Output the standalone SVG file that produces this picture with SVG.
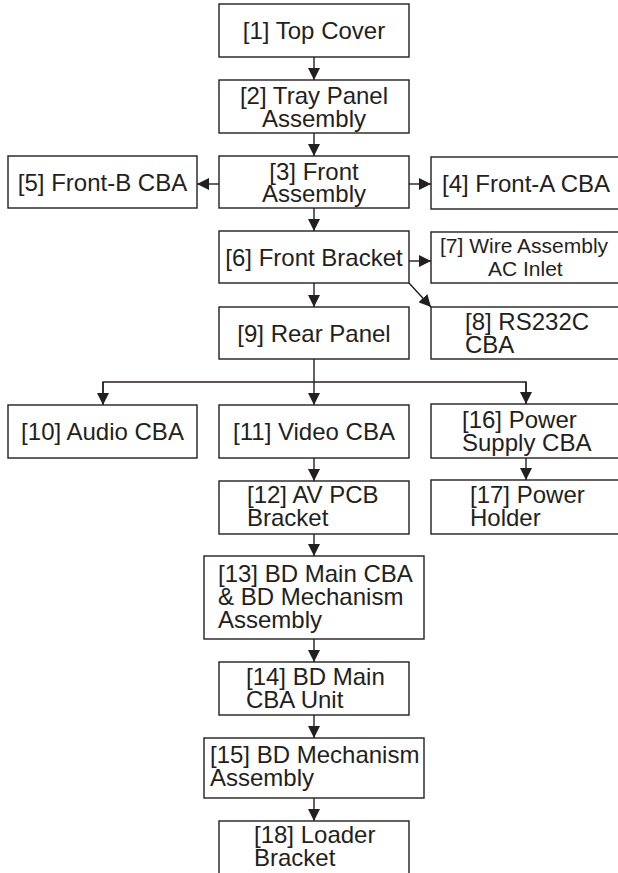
<svg xmlns="http://www.w3.org/2000/svg" width="618" height="873" viewBox="0 0 618 873">
<style>
.b{fill:#fff;stroke:#231f20;stroke-width:1.4}
.t{font-family:"Liberation Sans",Arial,sans-serif;font-size:24px;fill:#231f20}
.s{font-size:21px}
.c{text-anchor:middle}
.l{fill:none;stroke:#231f20;stroke-width:1.4}
</style>
<defs>
<marker id="a" viewBox="0 0 12 12" refX="12" refY="6" markerWidth="12" markerHeight="12" markerUnits="userSpaceOnUse" orient="auto">
<path d="M0,0 L12,6 L0,12 z" fill="#231f20"/>
</marker>
</defs>
<rect width="618" height="873" fill="#fff"/>
<g id="connectors">
<line class="l" x1="314" y1="57" x2="314" y2="80" marker-end="url(#a)"/>
<line class="l" x1="314" y1="133" x2="314" y2="156" marker-end="url(#a)"/>
<line class="l" x1="219" y1="184" x2="197" y2="184" marker-end="url(#a)"/>
<line class="l" x1="409" y1="184" x2="431" y2="184" marker-end="url(#a)"/>
<line class="l" x1="314" y1="208" x2="314" y2="231" marker-end="url(#a)"/>
<line class="l" x1="409" y1="261" x2="431" y2="261" marker-end="url(#a)"/>
<line class="l" x1="409" y1="283" x2="431" y2="307" marker-end="url(#a)"/>
<line class="l" x1="314" y1="283" x2="314" y2="307" marker-end="url(#a)"/>
<polyline class="l" points="314,359 314,382"/>
<polyline class="l" points="103,404 103,382 526,382 526,404"/>
<line class="l" x1="103" y1="382" x2="103" y2="405" marker-end="url(#a)"/>
<line class="l" x1="314" y1="382" x2="314" y2="405" marker-end="url(#a)"/>
<line class="l" x1="526" y1="382" x2="526" y2="404" marker-end="url(#a)"/>
<line class="l" x1="314" y1="458" x2="314" y2="481" marker-end="url(#a)"/>
<line class="l" x1="526" y1="458" x2="526" y2="480" marker-end="url(#a)"/>
<line class="l" x1="314" y1="534" x2="314" y2="556" marker-end="url(#a)"/>
<line class="l" x1="314" y1="639" x2="314" y2="662" marker-end="url(#a)"/>
<line class="l" x1="314" y1="715" x2="314" y2="738" marker-end="url(#a)"/>
<line class="l" x1="314" y1="798" x2="314" y2="821" marker-end="url(#a)"/>
</g>
<g id="n1"><rect class="b" x="219" y="4" width="190" height="53"/><text class="t c" x="314" y="39">[1] Top Cover</text></g>
<g id="n2"><rect class="b" x="219" y="80" width="190" height="53"/><text class="t c" x="314" y="104">[2] Tray Panel</text><text class="t c" x="314" y="127">Assembly</text></g>
<g id="n3"><rect class="b" x="219" y="156" width="190" height="52"/><text class="t c" x="314" y="180">[3] Front</text><text class="t c" x="314" y="202">Assembly</text></g>
<g id="n5"><rect class="b" x="8" y="156" width="189" height="52"/><text class="t c" x="102.5" y="191">[5] Front-B CBA</text></g>
<g id="n4"><rect class="b" x="431" y="157" width="200" height="52"/><text class="t" x="442" y="192">[4] Front-A CBA</text></g>
<g id="n6"><rect class="b" x="219" y="231" width="190" height="52"/><text class="t c" x="314" y="266">[6] Front Bracket</text></g>
<g id="n7"><rect class="b" x="431" y="232" width="200" height="51"/><text class="t s" x="440" y="253">[7] Wire Assembly</text><text class="t s" x="488" y="276">AC Inlet</text></g>
<g id="n9"><rect class="b" x="219" y="307" width="190" height="52"/><text class="t c" x="314" y="342">[9] Rear Panel</text></g>
<g id="n8"><rect class="b" x="431" y="307" width="200" height="52"/><text class="t" x="465" y="330">[8] RS232C</text><text class="t" x="465" y="353">CBA</text></g>
<g id="n10"><rect class="b" x="8" y="405" width="189" height="53"/><text class="t c" x="102.5" y="440">[10] Audio CBA</text></g>
<g id="n11"><rect class="b" x="219" y="405" width="190" height="53"/><text class="t c" x="314" y="440">[11] Video CBA</text></g>
<g id="n16"><rect class="b" x="431" y="404" width="200" height="54"/><text class="t" x="462" y="428">[16] Power</text><text class="t" x="462" y="451">Supply CBA</text></g>
<g id="n12"><rect class="b" x="219" y="481" width="190" height="53"/><text class="t" x="247" y="503">[12] AV PCB</text><text class="t" x="247" y="526">Bracket</text></g>
<g id="n17"><rect class="b" x="431" y="480" width="200" height="54"/><text class="t" x="470" y="503">[17] Power</text><text class="t" x="470" y="526">Holder</text></g>
<g id="n13"><rect class="b" x="204" y="556" width="220" height="83"/><text class="t" x="218" y="582">[13] BD Main CBA</text><text class="t" x="218" y="605">&amp; BD Mechanism</text><text class="t" x="218" y="628">Assembly</text></g>
<g id="n14"><rect class="b" x="219" y="662" width="190" height="53"/><text class="t" x="246" y="685">[14] BD Main</text><text class="t" x="246" y="708">CBA Unit</text></g>
<g id="n15"><rect class="b" x="204" y="738" width="220" height="60"/><text class="t" x="210" y="763">[15] BD Mechanism</text><text class="t" x="210" y="786">Assembly</text></g>
<g id="n18"><rect class="b" x="219" y="821" width="190" height="80"/><text class="t" x="254" y="843">[18] Loader</text><text class="t" x="254" y="866">Bracket</text></g>
</svg>
